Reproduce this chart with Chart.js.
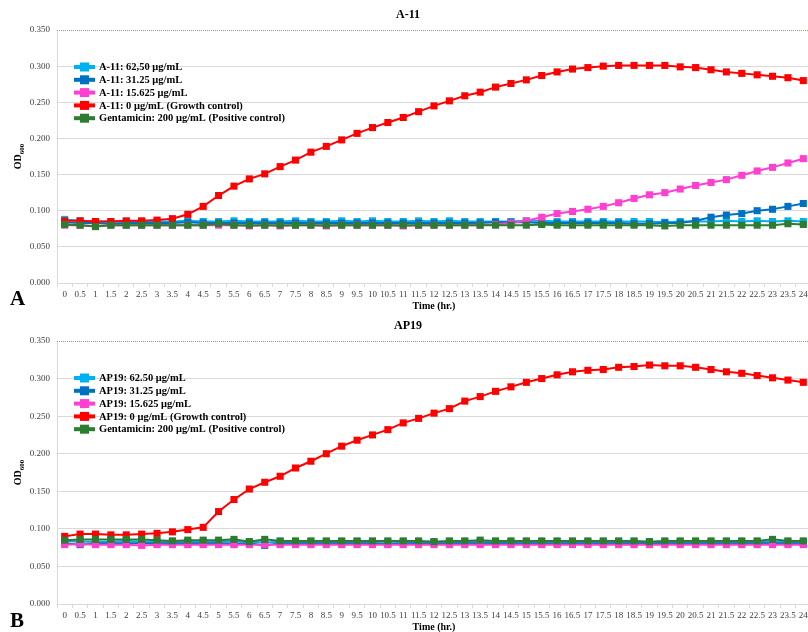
<!DOCTYPE html>
<html>
<head>
<meta charset="utf-8">
<script src="https://cdn.jsdelivr.net/npm/chart.js@4"></script>
<style>
  html, body { margin: 0; padding: 0; background: #fff; overflow: hidden; width: 808px; height: 632px; }
  .panel { position: absolute; left: 0; width: 816px; }
  #wrapA { top: 0; height: 316px; }
  #wrapB { top: 311px; height: 326px; }
  .tag { position: absolute; left: 10px; font: bold 21px "Liberation Serif", serif; color: #000; line-height: 1; }
</style>
</head>
<body>
<div class="panel" id="wrapA"><canvas id="chartA" width="816" height="316"></canvas></div>
<div class="panel" id="wrapB"><canvas id="chartB" width="816" height="326"></canvas></div>
<div class="tag" style="top:288px">A</div>
<div class="tag" style="top:610px">B</div>
<script>
// Sampling times (hours)
const timeLabels = [
  '0', '0.5', '1', '1.5', '2', '2.5', '3', '3.5', '4', '4.5',
  '5', '5.5', '6', '6.5', '7', '7.5', '8', '8.5', '9', '9.5',
  '10', '10.5', '11', '11.5', '12', '12.5', '13', '13.5', '14', '14.5',
  '15', '15.5', '16', '16.5', '17', '17.5', '18', '18.5', '19', '19.5',
  '20', '20.5', '21', '21.5', '22', '22.5', '23', '23.5', '24'
];

// Y axis ticks (OD600)
const odTicks = [0.000, 0.050, 0.100, 0.150, 0.200, 0.250, 0.300, 0.350];

// Panel A: A-11
const a11High = [
  0.088, 0.086, 0.085, 0.085, 0.085, 0.085, 0.085, 0.085, 0.086, 0.085,
  0.085, 0.086, 0.085, 0.085, 0.085, 0.086, 0.085, 0.085, 0.086, 0.085,
  0.086, 0.085, 0.085, 0.086, 0.085, 0.086, 0.085, 0.085, 0.085, 0.085,
  0.086, 0.086, 0.085, 0.085, 0.085, 0.085, 0.085, 0.085, 0.085, 0.084,
  0.085, 0.085, 0.085, 0.086, 0.085, 0.086, 0.085, 0.086, 0.085
];
const a11Mid = [
  0.084, 0.083, 0.083, 0.082, 0.083, 0.083, 0.083, 0.083, 0.084, 0.083,
  0.083, 0.083, 0.083, 0.083, 0.083, 0.083, 0.083, 0.083, 0.083, 0.083,
  0.083, 0.083, 0.083, 0.083, 0.083, 0.083, 0.083, 0.083, 0.084, 0.084,
  0.084, 0.083, 0.083, 0.083, 0.083, 0.083, 0.083, 0.082, 0.082, 0.083,
  0.083, 0.086, 0.091, 0.094, 0.096, 0.100, 0.102, 0.106, 0.110
];
const a11Low = [
  0.080, 0.080, 0.079, 0.080, 0.080, 0.080, 0.080, 0.080, 0.080, 0.080,
  0.080, 0.080, 0.079, 0.080, 0.079, 0.080, 0.080, 0.079, 0.080, 0.080,
  0.080, 0.080, 0.079, 0.080, 0.080, 0.080, 0.080, 0.080, 0.081, 0.083,
  0.086, 0.091, 0.096, 0.099, 0.102, 0.106, 0.111, 0.117, 0.122, 0.125,
  0.130, 0.135, 0.139, 0.143, 0.149, 0.155, 0.160, 0.166, 0.172
];
const a11Growth = [
  0.086, 0.086, 0.085, 0.085, 0.086, 0.086, 0.087, 0.089, 0.095, 0.106,
  0.121, 0.134, 0.144, 0.151, 0.161, 0.170, 0.181, 0.189, 0.198, 0.207,
  0.215, 0.222, 0.229, 0.237, 0.245, 0.252, 0.259, 0.264, 0.271, 0.276,
  0.281, 0.287, 0.292, 0.296, 0.298, 0.300, 0.301, 0.301, 0.301, 0.301,
  0.299, 0.298, 0.295, 0.292, 0.290, 0.288, 0.286, 0.284, 0.280
];
const a11Genta = [
  0.081, 0.080, 0.078, 0.080, 0.080, 0.080, 0.080, 0.080, 0.080, 0.080,
  0.082, 0.080, 0.080, 0.080, 0.080, 0.080, 0.080, 0.080, 0.080, 0.080,
  0.080, 0.080, 0.080, 0.080, 0.080, 0.080, 0.080, 0.080, 0.080, 0.080,
  0.080, 0.081, 0.080, 0.080, 0.080, 0.080, 0.080, 0.080, 0.080, 0.079,
  0.080, 0.080, 0.080, 0.080, 0.080, 0.080, 0.080, 0.082, 0.081
];

// Panel B: AP19
const ap19High = [
  0.084, 0.083, 0.083, 0.083, 0.084, 0.083, 0.083, 0.083, 0.083, 0.083,
  0.083, 0.083, 0.083, 0.082, 0.083, 0.083, 0.083, 0.083, 0.083, 0.083,
  0.083, 0.083, 0.083, 0.083, 0.083, 0.083, 0.083, 0.083, 0.083, 0.083,
  0.083, 0.083, 0.083, 0.083, 0.083, 0.083, 0.083, 0.083, 0.083, 0.083,
  0.083, 0.083, 0.083, 0.083, 0.083, 0.083, 0.083, 0.083, 0.083
];
const ap19Mid = [
  0.081, 0.079, 0.081, 0.081, 0.081, 0.081, 0.081, 0.081, 0.081, 0.081,
  0.081, 0.080, 0.081, 0.078, 0.081, 0.081, 0.081, 0.081, 0.081, 0.081,
  0.081, 0.080, 0.081, 0.081, 0.081, 0.081, 0.081, 0.081, 0.081, 0.081,
  0.081, 0.081, 0.081, 0.081, 0.081, 0.081, 0.081, 0.081, 0.081, 0.081,
  0.081, 0.081, 0.081, 0.081, 0.081, 0.081, 0.081, 0.081, 0.081
];
const ap19Low = [
  0.079, 0.080, 0.079, 0.079, 0.079, 0.078, 0.079, 0.079, 0.079, 0.079,
  0.079, 0.079, 0.079, 0.079, 0.079, 0.079, 0.079, 0.079, 0.079, 0.079,
  0.079, 0.079, 0.079, 0.079, 0.079, 0.079, 0.079, 0.079, 0.079, 0.079,
  0.079, 0.079, 0.079, 0.079, 0.079, 0.079, 0.079, 0.079, 0.079, 0.079,
  0.079, 0.079, 0.079, 0.079, 0.079, 0.079, 0.079, 0.079, 0.079
];
const ap19Growth = [
  0.090, 0.093, 0.093, 0.092, 0.092, 0.093, 0.094, 0.096, 0.099, 0.102,
  0.123, 0.139, 0.153, 0.162, 0.170, 0.181, 0.190, 0.200, 0.210, 0.218,
  0.225, 0.232, 0.241, 0.247, 0.254, 0.260, 0.270, 0.276, 0.283, 0.289,
  0.295, 0.300, 0.305, 0.309, 0.311, 0.312, 0.315, 0.316, 0.318, 0.317,
  0.317, 0.315, 0.312, 0.309, 0.307, 0.304, 0.301, 0.298, 0.295
];
const ap19Genta = [
  0.085, 0.086, 0.086, 0.086, 0.086, 0.086, 0.085, 0.084, 0.085, 0.085,
  0.085, 0.086, 0.083, 0.086, 0.084, 0.084, 0.084, 0.084, 0.084, 0.084,
  0.084, 0.084, 0.084, 0.084, 0.083, 0.084, 0.084, 0.085, 0.084, 0.084,
  0.084, 0.084, 0.084, 0.084, 0.084, 0.084, 0.084, 0.084, 0.083, 0.084,
  0.084, 0.084, 0.084, 0.084, 0.084, 0.084, 0.086, 0.084, 0.084
];

// Series colours
const colHigh = '#00B0F0';
const colMid = '#0070C0';
const colLow = '#FF3FD0';
const colGrowth = '#FF0000';
const colGenta = '#2E7B32';

const SERIF = '"Liberation Serif", "Times New Roman", serif';

function series(label, data, color, order) {
  return {
    label, data, order,
    borderColor: color,
    backgroundColor: color,
    borderWidth: 2,
    pointStyle: 'rect',
    pointRadius: 5,
    pointHoverRadius: 5,
    pointBorderWidth: 0,
    tension: 0
  };
}

// Legend drawn inside the plot area, Excel style (line with square marker)
const innerLegend = {
  id: 'innerLegend',
  afterDatasetsDraw(chart) {
    const { ctx, chartArea } = chart;
    ctx.save();
    ctx.font = 'bold 10.5px ' + SERIF;
    ctx.textBaseline = 'middle';
    ctx.textAlign = 'left';
    chart.data.datasets.forEach((ds, i) => {
      const y = chartArea.top + 37 + i * 12.8;
      const x0 = chartArea.left + 17;
      ctx.strokeStyle = ds.borderColor;
      ctx.lineWidth = 4;
      ctx.beginPath();
      ctx.moveTo(x0, y);
      ctx.lineTo(x0 + 21, y);
      ctx.stroke();
      ctx.fillStyle = ds.borderColor;
      ctx.fillRect(x0 + 6, y - 4.5, 9, 9);
      ctx.fillStyle = '#000';
      ctx.fillText(ds.label, x0 + 25, y + 0.5);
    });
    ctx.restore();
  }
};

// Dotted top border and the OD600 axis title
const frame = {
  id: 'frame',
  beforeDatasetsDraw(chart) {
    const { ctx, chartArea } = chart;
    ctx.save();
    ctx.strokeStyle = '#7FB55A';
    ctx.lineWidth = 1;
    ctx.setLineDash([1, 1]);
    ctx.beginPath();
    ctx.moveTo(chartArea.left, chartArea.top + 0.5);
    ctx.lineTo(chartArea.right, chartArea.top + 0.5);
    ctx.stroke();
    ctx.restore();
  },
  afterDraw(chart) {
    const { ctx, chartArea } = chart;
    const cy = (chartArea.top + chartArea.bottom) / 2;
    ctx.save();
    ctx.translate(18, cy);
    ctx.rotate(-Math.PI / 2);
    ctx.fillStyle = '#000';
    ctx.textBaseline = 'alphabetic';
    ctx.textAlign = 'left';
    ctx.font = 'bold 10px ' + SERIF;
    const w1 = ctx.measureText('OD').width;
    ctx.font = 'bold 7px ' + SERIF;
    const w2 = ctx.measureText('600').width;
    const start = -(w1 + w2) / 2;
    ctx.font = 'bold 10px ' + SERIF;
    ctx.fillText('OD', start, 3);
    ctx.font = 'bold 7px ' + SERIF;
    ctx.fillText('600', start + w1, 6);
    ctx.restore();
  }
};

function buildChart(canvasId, title, datasets) {
  return new Chart(document.getElementById(canvasId), {
    type: 'line',
    data: { labels: timeLabels, datasets },
    plugins: [frame, innerLegend],
    options: {
      responsive: false,
      animation: false,
      events: [],
      layout: { padding: { left: 0, right: 0, top: 0, bottom: 0 } },
      plugins: {
        legend: { display: false },
        tooltip: { enabled: false },
        title: {
          display: true,
          text: title,
          color: '#000',
          font: { family: SERIF, size: 12, weight: 'bold', lineHeight: 1.2 },
          padding: { top: 8, bottom: 7.6 }
        }
      },
      scales: {
        x: {
          type: 'category',
          offset: true,
          grid: {
            display: true,
            drawOnChartArea: false,
            drawTicks: true,
            tickLength: 4,
            offset: true,
            color: '#D9D9D9'
          },
          border: { display: true, color: '#D9D9D9' },
          ticks: {
            autoSkip: false,
            maxRotation: 0,
            minRotation: 0,
            padding: 2,
            color: '#404040',
            font: { family: SERIF, size: 9 }
          },
          title: {
            display: true,
            text: 'Time (hr.)',
            color: '#000',
            font: { family: SERIF, size: 10, weight: 'bold', lineHeight: 1.2 },
            padding: { top: 0, bottom: 4 }
          },
          afterFit(scale) { scale.height = 33; }
        },
        y: {
          min: 0,
          max: 0.35,
          afterBuildTicks(scale) { scale.ticks = odTicks.map(v => ({ value: v })); },
          grid: {
            drawTicks: false,
            color: ctx => (ctx.tick && ctx.tick.value >= 0.35 ? 'rgba(0,0,0,0)' : '#D9D9D9'),
            lineWidth: 1
          },
          border: { display: true, color: '#D9D9D9' },
          ticks: {
            padding: 7,
            color: '#404040',
            font: { family: SERIF, size: 9 },
            callback: v => Number(v).toFixed(3)
          },
          afterFit(scale) { scale.width = 57; }
        }
      }
    }
  });
}

buildChart('chartA', 'A-11', [
  series('A-11: 62,50 μg/mL', a11High, colHigh, 5),
  series('A-11: 31.25 μg/mL', a11Mid, colMid, 4),
  series('A-11: 15.625 μg/mL', a11Low, colLow, 3),
  series('A-11: 0 μg/mL (Growth control)', a11Growth, colGrowth, 2),
  series('Gentamicin: 200 μg/mL (Positive control)', a11Genta, colGenta, 1)
]);

buildChart('chartB', 'AP19', [
  series('AP19: 62.50 μg/mL', ap19High, colHigh, 5),
  series('AP19: 31.25 μg/mL', ap19Mid, colMid, 4),
  series('AP19: 15.625 μg/mL', ap19Low, colLow, 3),
  series('AP19: 0 μg/mL (Growth control)', ap19Growth, colGrowth, 2),
  series('Gentamicin: 200 μg/mL (Positive control)', ap19Genta, colGenta, 1)
]);
</script>
</body>
</html>
